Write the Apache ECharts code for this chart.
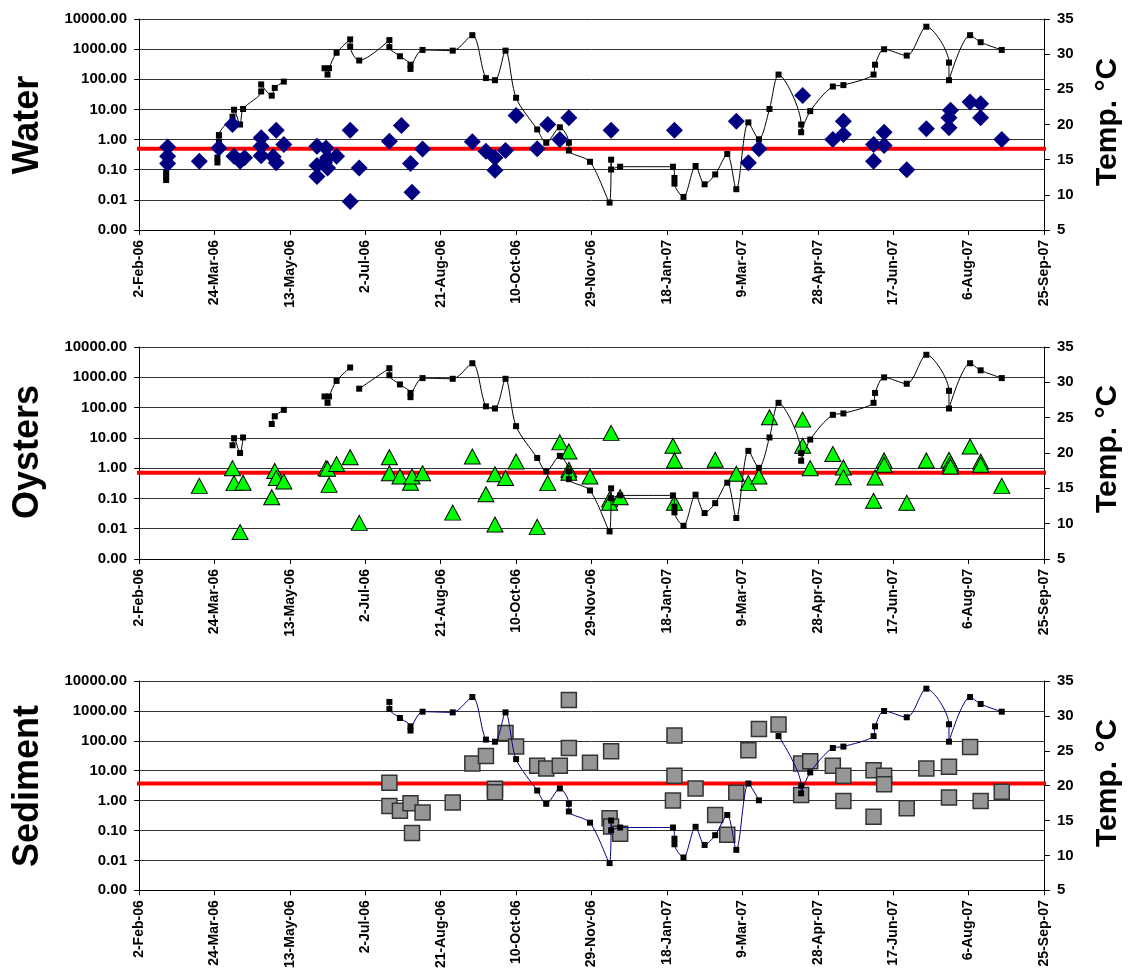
<!DOCTYPE html>
<html>
<head>
<meta charset="utf-8">
<script src="https://cdn.jsdelivr.net/npm/echarts@6/dist/echarts.min.js"></script>
<style>
html,body{margin:0;padding:0;background:#fff;}
#chart{width:1131px;height:971px;}
</style>
</head>
<body>
<div id="chart"></div>
<script>
// ---------------- DATA ----------------
const panelNames = ['Water', 'Oysters', 'Sediment'];
const thresholds = [0.5, 0.71, 3.7];
const xTickLabels = ['2-Feb-06','24-Mar-06','13-May-06','2-Jul-06','21-Aug-06','10-Oct-06','29-Nov-06',
  '18-Jan-07','9-Mar-07','28-Apr-07','17-Jun-07','6-Aug-07','25-Sep-07'];

// temperature sampling dates (shared) and values per panel (null = gap)
const tempDates = ['2006-02-20','2006-02-20','2006-02-20','2006-03-10','2006-03-26','2006-03-26','2006-03-27','2006-03-27',
  '2006-04-05','2006-04-06','2006-04-10','2006-04-12','2006-04-24','2006-04-24','2006-05-01','2006-05-03','2006-05-09',
  '2006-05-20','2006-06-05','2006-06-07','2006-06-08','2006-06-13','2006-06-22','2006-06-22','2006-06-28',
  '2006-07-18','2006-07-18','2006-07-25','2006-08-01','2006-08-01','2006-08-09','2006-08-29','2006-09-11',
  '2006-09-20','2006-09-26','2006-10-03','2006-10-10','2006-10-24','2006-10-30','2006-11-08','2006-11-14',
  '2006-11-14','2006-11-28','2006-12-11','2006-12-12','2006-12-12','2006-12-18','2007-01-22','2007-01-23',
  '2007-01-23','2007-01-29','2007-02-06','2007-02-12','2007-02-19','2007-02-27','2007-03-05','2007-03-13',
  '2007-03-20','2007-03-27','2007-04-02','2007-04-17','2007-04-17','2007-04-23','2007-05-08','2007-05-15',
  '2007-06-04','2007-06-05','2007-06-11','2007-06-26','2007-07-09','2007-07-24','2007-07-24','2007-08-07',
  '2007-08-14','2007-08-28'];
const waterTemp = [13.2,12.6,12.1,null,14.6,15.3,17.6,18.5,
  21.1,22.1,20.0,22.2,24.7,25.7,24.1,25.2,26.1,
  null,28.0,27.1,28.0,30.2,32.1,31.1,29.1,
  32.0,31.0,29.7,28.5,27.9,30.6,30.5,32.7,
  26.6,26.3,30.5,23.8,19.3,17.4,19.6,17.4,
  16.3,14.7,8.9,15.0,13.6,14.0,14.0,12.4,
  11.6,9.7,14.1,11.5,12.9,15.8,10.8,20.3,
  17.9,22.2,27.1,20.0,18.9,21.9,25.4,25.6,
  27.1,28.5,30.7,29.8,33.9,28.8,26.3,32.7,
  31.7,30.6];
const oysterTemp = [null,null,null,null,null,null,null,null,
  21.1,22.1,20.0,22.2,null,null,24.1,25.2,26.1,
  null,28.0,27.1,28.0,30.2,32.1,null,29.1,
  32.0,31.0,29.7,28.5,27.9,30.6,30.5,32.7,
  26.6,26.3,30.5,23.8,19.3,17.4,19.6,17.4,
  16.3,14.7,8.9,15.0,13.6,14.0,14.0,12.4,
  11.6,9.7,14.1,11.5,12.9,15.8,10.8,20.3,
  17.9,22.2,27.1,20.0,18.9,21.9,25.4,25.6,
  27.1,28.5,30.7,29.8,33.9,28.8,26.3,32.7,
  31.7,30.6];
const sedimentTemp = [null,null,null,null,null,null,null,null,
  null,null,null,null,null,null,null,null,null,
  null,null,null,null,null,null,null,null,
  32.0,31.0,29.7,28.5,27.9,30.6,30.5,32.7,
  26.6,26.3,30.5,23.8,19.3,17.4,19.6,17.4,
  16.3,14.7,8.9,15.0,13.6,14.0,14.0,12.4,
  11.6,9.7,14.1,11.5,12.9,15.8,10.8,20.3,
  17.9,null,27.1,20.0,18.9,21.9,25.4,25.6,
  27.1,28.5,30.7,29.8,33.9,28.8,26.3,32.7,
  31.7,30.6];

// concentrations
const waterDates = ['2006-02-21','2006-02-21','2006-02-21','2006-03-14','2006-03-27','2006-04-05','2006-04-06',
  '2006-04-10','2006-04-13','2006-04-24','2006-04-24','2006-04-24','2006-05-02','2006-05-04','2006-05-04',
  '2006-05-09','2006-05-31','2006-05-31','2006-05-31','2006-06-06','2006-06-07','2006-06-05','2006-06-07',
  '2006-06-13','2006-06-22','2006-06-22','2006-06-28','2006-07-18','2006-07-26','2006-08-01','2006-08-02',
  '2006-08-09','2006-09-11','2006-09-20','2006-09-26','2006-09-26','2006-10-03','2006-10-10','2006-10-24',
  '2006-10-31','2006-11-08','2006-11-14','2006-12-12','2007-01-23','2007-03-05','2007-03-13','2007-03-20',
  '2007-04-18','2007-05-08','2007-05-15','2007-05-15','2007-06-04','2007-06-04','2007-06-11','2007-06-11',
  '2007-06-26','2007-07-09','2007-07-24','2007-07-24','2007-07-25','2007-08-07','2007-08-14','2007-08-14',
  '2007-08-28'];
const waterValues = [0.57,0.28,0.16,0.19,0.53,3.15,0.28,
  0.19,0.25,1.14,0.60,0.29,0.27,2.03,0.17,
  0.68,0.60,0.137,0.06,0.53,0.25,0.17,0.115,
  0.28,2.03,0.0089,0.115,0.88,2.92,0.16,0.018,
  0.49,0.84,0.41,0.25,0.096,0.43,6.3,0.50,
  3.15,1.0,5.25,2.03,2.03,4.06,0.17,0.50,
  29,1.0,1.47,4.06,0.19,0.68,0.63,1.75,
  0.10,2.27,2.45,5.25,9.4,17.8,15.3,5.25,
  1.0];

const oysterDates = ['2006-03-14','2006-04-05','2006-04-06','2006-04-12','2006-04-10','2006-05-01','2006-05-03',
  '2006-05-04','2006-05-09','2006-06-06','2006-06-07','2006-06-08','2006-06-13','2006-06-22','2006-06-28',
  '2006-07-18','2006-07-18','2006-07-25','2006-08-01','2006-08-02','2006-08-09','2006-08-29','2006-09-11',
  '2006-09-20','2006-09-26','2006-09-26','2006-10-03','2006-10-10','2006-10-24','2006-10-31','2006-11-08',
  '2006-11-14','2006-11-14','2006-11-14','2006-11-28','2006-12-12','2006-12-11','2006-12-11','2006-12-18',
  '2007-01-22','2007-01-23','2007-01-23','2007-02-19','2007-03-05','2007-03-13','2007-03-20','2007-03-27',
  '2007-04-18','2007-04-18','2007-04-23','2007-05-08','2007-05-15','2007-05-15','2007-06-05','2007-06-04',
  '2007-06-11','2007-06-11','2007-06-26','2007-07-09','2007-07-24','2007-07-25','2007-07-25','2007-08-07',
  '2007-08-14','2007-08-14','2007-08-28'];
const oysterValues = [0.26,1.0,0.32,0.33,0.0078,0.11,0.81,
  0.47,0.36,1.0,0.95,0.28,1.36,2.3,0.0156,
  2.3,0.68,0.53,0.33,0.53,0.68,0.034,2.43,
  0.137,0.63,0.0138,0.47,1.66,0.0115,0.32,7.1,
  3.56,0.88,0.7,0.53,14.6,0.093,0.072,0.11,
  5.5,1.8,0.072,1.89,0.65,0.32,0.53,48,
  40,5.5,1.0,2.92,1.05,0.5,0.49,0.084,
  1.8,1.29,0.072,1.8,1.89,1.47,1.13,5.2,
  1.66,1.29,0.26];

const sedimentDates = ['2006-07-18','2006-07-18','2006-07-25','2006-08-01','2006-08-09','2006-08-02','2006-08-29',
  '2006-09-11','2006-09-20','2006-09-26','2006-09-26','2006-10-03','2006-10-10','2006-10-24','2006-10-30',
  '2006-11-08','2006-11-14','2006-11-14','2006-11-28','2006-12-12','2006-12-11','2006-12-12','2006-12-18',
  '2007-01-23','2007-01-23','2007-01-22','2007-02-06','2007-02-19','2007-02-27','2007-03-05','2007-03-13',
  '2007-03-20','2007-04-02','2007-04-17','2007-04-23','2007-04-17','2007-05-08','2007-05-15','2007-05-15',
  '2007-06-04','2007-06-11','2007-06-11','2007-06-04','2007-06-26','2007-07-09','2007-07-24','2007-07-24',
  '2007-08-07','2007-08-14','2007-08-28'];
const sedimentValues = [3.96,0.66,0.46,0.81,0.40,0.082,0.86,
  17.3,31,2.5,1.9,183,65,14.5,11.8,
  14.5,2320,57.6,18.3,44.5,0.258,0.137,0.078,
  150,6.8,1.0,2.56,0.33,0.072,1.84,48,
  250,350,17.3,20.7,1.53,14.5,6.8,0.97,
  10.4,6.8,3.5,0.29,0.55,11.8,13.5,1.26,
  62,0.97,1.99];

// ---------------- CHART ----------------
const DAY0 = Date.UTC(2006, 1, 2);
function dayOf(s) { return Math.round((Date.parse(s) - DAY0) / 86400000); }

const FONT = '"Liberation Sans", Arial, sans-serif';
const gridTops = [19, 347, 681];
const gridHeights = [211, 212, 211];
const panelCenters = [125, 452, 786];

const concDates = [waterDates, oysterDates, sedimentDates];
const concValues = [waterValues, oysterValues, sedimentValues];
const temps = [waterTemp, oysterTemp, sedimentTemp];

const markerStyles = [
  { symbol: 'diamond', symbolSize: 17, itemStyle: { color: '#000080', opacity: 1 }, z: 5 },
  { symbol: 'triangle', symbolSize: [16, 15], itemStyle: { color: '#00FF00', borderColor: '#000', borderWidth: 1, opacity: 1 }, z: 3 },
  { symbol: 'rect', symbolSize: 15, itemStyle: { color: '#969696', borderColor: '#333', borderWidth: 1.5, opacity: 1 }, z: 3 }
];
const tempLineColors = ['#000', '#000', '#000080'];

const grids = [], xAxes = [], yAxes = [], series = [], graphics = [];
for (let i = 0; i < 3; i++) {
  grids.push({ left: 139, right: 87, top: gridTops[i], height: gridHeights[i] });
  xAxes.push({
    type: 'value', gridIndex: i, min: 0, max: 600, interval: 50,
    axisLine: { show: true, onZero: false, lineStyle: { color: '#000', width: 1 } },
    axisTick: { show: true, length: 5, lineStyle: { color: '#000' } },
    splitLine: { show: false },
    axisLabel: {
      rotate: 90, margin: 10, color: '#000', fontFamily: FONT, fontWeight: 'bold', fontSize: 14,
      formatter: v => xTickLabels[Math.round(v / 50)] || ''
    }
  });
  yAxes.push({
    type: 'log', logBase: 10, gridIndex: i, min: 0.001, max: 10000, interval: 1, position: 'left',
    axisLine: { show: true, lineStyle: { color: '#000', width: 1 } },
    axisTick: { show: true, length: 5, lineStyle: { color: '#000' } },
    splitLine: { show: true, lineStyle: { color: '#333', width: 1 } },
    axisLabel: {
      margin: 12, color: '#000', fontFamily: FONT, fontWeight: 'bold', fontSize: 15,
      formatter: v => Number(v).toFixed(2)
    }
  });
  yAxes.push({
    type: 'value', gridIndex: i, min: 5, max: 35, interval: 5, position: 'right',
    axisLine: { show: true, lineStyle: { color: '#000', width: 1 } },
    axisTick: { show: true, length: 6, lineStyle: { color: '#000' } },
    splitLine: { show: false },
    axisLabel: { margin: 13, color: '#000', fontFamily: FONT, fontWeight: 'bold', fontSize: 15 }
  });

  // threshold line (slightly wider than plot, as in the original)
  series.push({
    type: 'line', xAxisIndex: i, yAxisIndex: 2 * i, clip: false, silent: true,
    symbol: 'none', z: 2,
    lineStyle: { color: '#FF0000', width: 4 },
    data: [[-4.6, thresholds[i]], [606, thresholds[i]]]
  });
  // concentrations
  const ms = markerStyles[i];
  series.push(Object.assign({
    type: 'scatter', xAxisIndex: i, yAxisIndex: 2 * i,
    data: concDates[i].map((d, k) => [dayOf(d), concValues[i][k]])
  }, ms));
  // temperature
  series.push({
    type: 'line', xAxisIndex: i, yAxisIndex: 2 * i + 1, z: 4,
    smooth: 0.3, connectNulls: false, showSymbol: true, showAllSymbol: true,
    symbol: 'rect', symbolSize: 6,
    itemStyle: { color: '#000' },
    lineStyle: { color: tempLineColors[i], width: 1 },
    data: tempDates.map((d, k) => [dayOf(d), temps[i][k] == null ? '-' : temps[i][k]])
  });

  graphics.push({
    type: 'text', x: 28, y: panelCenters[i], rotation: Math.PI / 2,
    style: { text: panelNames[i], font: 'bold 36px ' + FONT, fill: '#000', align: 'center', verticalAlign: 'middle' }
  });
  graphics.push({
    type: 'text', x: 1108, y: panelCenters[i] - 3, rotation: Math.PI / 2,
    style: { text: 'Temp. °C', font: 'bold 30px ' + FONT, fill: '#000', align: 'center', verticalAlign: 'middle' }
  });
}

const chart = echarts.init(document.getElementById('chart'), null, { renderer: 'canvas' });
chart.setOption({
  backgroundColor: '#fff',
  animation: false,
  grid: grids,
  xAxis: xAxes,
  yAxis: yAxes,
  series: series,
  graphic: graphics
});
</script>
</body>
</html>
